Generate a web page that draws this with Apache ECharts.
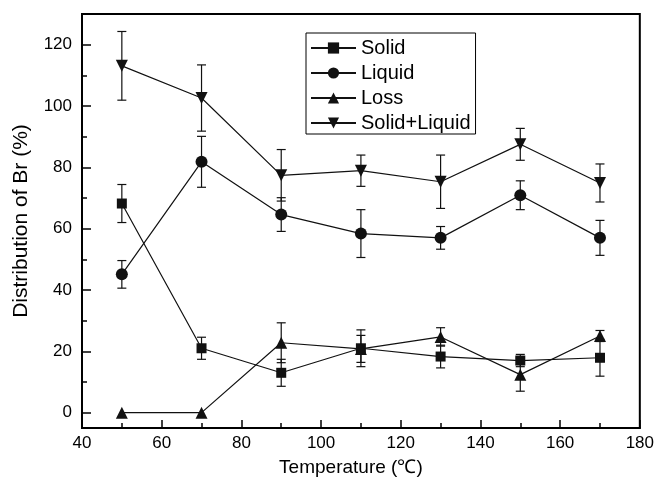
<!DOCTYPE html>
<html>
<head>
<meta charset="utf-8">
<script src="https://cdn.jsdelivr.net/npm/echarts@6/dist/echarts.min.js"></script>
<style>
html,body{margin:0;padding:0;background:#fff;}
#c{width:657px;height:487px;}
</style>
</head>
<body>
<div id="c"></div>
<script>
var temps = [50, 70, 90, 110, 130, 150, 170];
var solid = [68.2, 21.0, 13.0, 21.0, 18.3, 17.0, 17.9];
var solidErr = [6.2, 3.6, 4.4, 6.0, 3.7, 2.0, 6.0];
var liquid = [45.1, 81.8, 64.6, 58.4, 57.0, 70.9, 57.0];
var liquidErr = [4.5, 8.3, 5.5, 7.8, 3.7, 4.7, 5.7];
var loss = [0, 0, 22.8, 20.8, 24.7, 12.4, 25.0];
var lossErr = [0, 0, 6.5, 4.4, 3.0, 5.4, 1.8];
var solidLiquid = [113.1, 102.6, 77.4, 78.9, 75.3, 87.5, 74.9];
var solidLiquidErr = [11.2, 10.8, 8.4, 5.1, 8.7, 5.2, 6.2];
var yMajorTicks = [0, 20, 40, 60, 80, 100, 120];
var yMinorTicks = [10, 30, 50, 70, 90, 110];
var seriesNames = ['Solid', 'Liquid', 'Loss', 'Solid+Liquid'];

var FONT = 'Liberation Sans, Arial, Helvetica, sans-serif';
var INK = '#111';

function pts(vals) { return temps.map(function (t, i) { return [t, vals[i]]; }); }
function errPts(vals, errs) { return temps.map(function (t, i) { return [t, vals[i], errs[i]]; }); }

function errRender(params, api) {
  var x = api.value(0), y = api.value(1), e = api.value(2);
  if (!e) return null;
  var top = api.coord([x, y + e]);
  var bot = api.coord([x, y - e]);
  var hw = 4.5;
  var st = { stroke: INK, lineWidth: 1.2 };
  return {
    type: 'group',
    children: [
      { type: 'line', shape: { x1: top[0], y1: top[1], x2: bot[0], y2: bot[1] }, style: st },
      { type: 'line', shape: { x1: top[0] - hw, y1: top[1], x2: top[0] + hw, y2: top[1] }, style: st },
      { type: 'line', shape: { x1: bot[0] - hw, y1: bot[1], x2: bot[0] + hw, y2: bot[1] }, style: st }
    ]
  };
}

function lineSeries(name, vals, symbol, size, rot) {
  return {
    name: name, type: 'line', data: pts(vals),
    symbol: symbol, symbolSize: size, symbolRotate: rot || 0,
    lineStyle: { color: INK, width: 1.2 },
    itemStyle: { color: INK },
    z: 3
  };
}
function errSeries(vals, errs) {
  return { type: 'custom', name: '_err', data: errPts(vals, errs), renderItem: errRender, z: 2, silent: true };
}

var chart = echarts.init(document.getElementById('c'));
chart.setOption({
  animation: false,
  backgroundColor: '#fff',
  grid: { left: 82, top: 14, right: 16, bottom: 59, show: true, borderColor: '#000', borderWidth: 2, backgroundColor: 'transparent' },
  legend: {
    data: seriesNames,
    orient: 'vertical', left: 306, top: 33,
    itemWidth: 45, itemHeight: 14, itemGap: 5,
    padding: [5, 5, 1, 4],
    borderColor: '#000', borderWidth: 1,
    textStyle: { fontFamily: FONT, fontSize: 20, color: '#000' }
  },
  xAxis: {
    type: 'value', min: 40, max: 180, interval: 20,
    name: 'Temperature (℃)', nameLocation: 'middle', nameGap: 30,
    nameTextStyle: { fontFamily: FONT, fontSize: 19, color: '#000', padding: [0, 20, 0, 0] },
    axisLine: { show: true, onZero: false, lineStyle: { color: '#000', width: 2 } },
    axisTick: { show: true, inside: true, length: 8, lineStyle: { color: '#000', width: 1.5 } },
    minorTick: { show: true, splitNumber: 2, length: 5, lineStyle: { color: '#000', width: 1.5 } },
    axisLabel: { fontFamily: FONT, fontSize: 17, color: '#000', margin: 7 },
    splitLine: { show: false }
  },
  yAxis: [{
    type: 'value', min: -5, max: 130,
    name: 'Distribution of Br (%)', nameLocation: 'middle', nameGap: 50, nameRotate: 90,
    nameTextStyle: { fontFamily: FONT, fontSize: 21, color: '#000' },
    axisLine: { show: true, onZero: false, lineStyle: { color: '#000', width: 2 } },
    axisTick: { show: true, inside: true, length: 9, customValues: yMajorTicks, lineStyle: { color: '#000', width: 1.5 } },
    axisLabel: { fontFamily: FONT, fontSize: 17, color: '#000', margin: 10, customValues: yMajorTicks },
    splitLine: { show: false }
  }, {
    type: 'value', min: -5, max: 130, position: 'left',
    axisLine: { show: false, onZero: false },
    axisTick: { show: true, inside: true, length: 5, customValues: yMinorTicks, lineStyle: { color: '#000', width: 1.5 } },
    axisLabel: { show: false },
    splitLine: { show: false }
  }],
  series: [
    errSeries(solid, solidErr),
    errSeries(liquid, liquidErr),
    errSeries(loss, lossErr),
    errSeries(solidLiquid, solidLiquidErr),
    lineSeries(seriesNames[0], solid, 'rect', 10),
    lineSeries(seriesNames[1], liquid, 'circle', 12),
    lineSeries(seriesNames[2], loss, 'triangle', 12),
    lineSeries(seriesNames[3], solidLiquid, 'triangle', 12, 180)
  ]
});
</script>
</body>
</html>
